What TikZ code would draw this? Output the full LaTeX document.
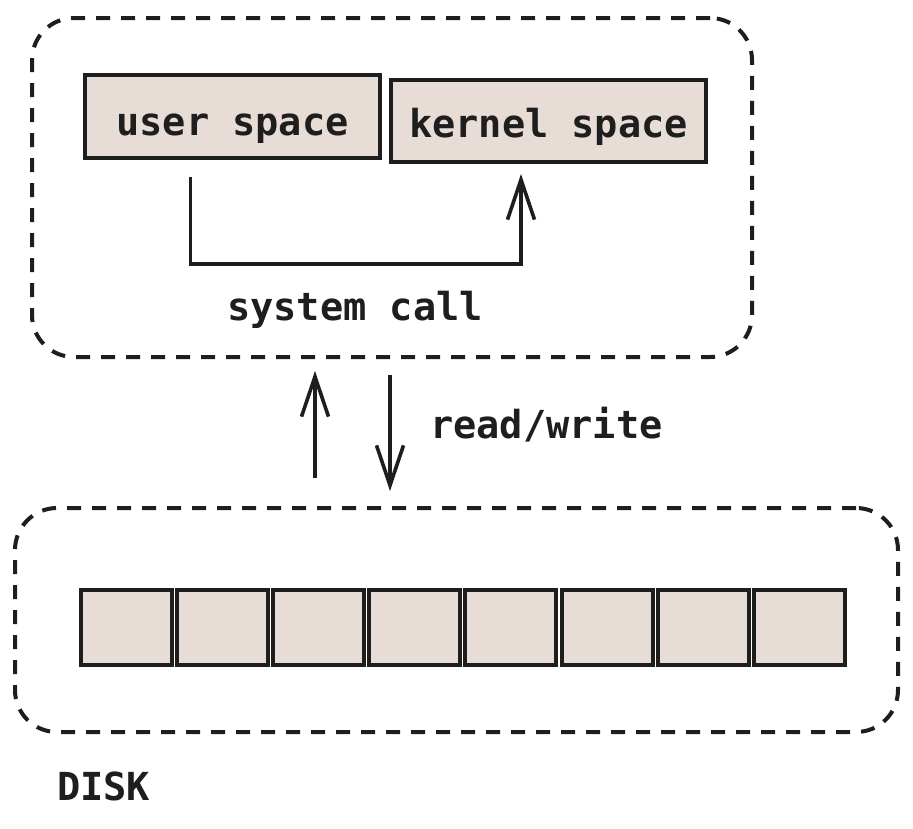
\documentclass[tikz,border=0pt]{standalone}
\usepackage{fontspec}
\setmonofont{DejaVu Sans Mono}
\usetikzlibrary{arrows.meta,calc}
\definecolor{ink}{HTML}{1E1E1E}
\definecolor{boxfill}{HTML}{E8DCD7}
\begin{document}
\begin{tikzpicture}[x=1pt,y=-1pt,
  txt/.style={font=\ttfamily\bfseries\fontsize{38.6}{41}\selectfont, text=ink, inner sep=0pt},
  solidbox/.style={draw=ink, fill=boxfill, line width=4pt, inner sep=0pt},
  group/.style={draw=ink, line width=4pt, rounded corners=42pt, dash pattern=on 14pt off 11pt, inner sep=0pt},
  conn/.style={draw=ink, line width=3.6pt, -{Straight Barb[length=40pt,width=27pt,line width=3.6pt]}}
]
\useasboundingbox (0,0) rectangle (913,828);
% groups
\node[group, minimum width=720pt, minimum height=339pt] (top) at (392,187.5) {};
\node[group, minimum width=883pt, minimum height=224pt] (disk) at (456.5,620) {};
% spaces
\node[solidbox, minimum width=295pt, minimum height=83pt] (user) at (232.5,116.5) {};
\node[txt, anchor=base] (usertxt) at (232.5,135) {user space};
\node[solidbox, minimum width=315pt, minimum height=82pt] (kernel) at (548.5,121) {};
\node[txt, anchor=base] (kerneltxt) at (548.5,137) {kernel space};
% system call connector
\coordinate (turn) at (521,264);
\draw[conn] ([xshift=-42pt,yshift=-17pt]user.south) |- (turn) -- ([xshift=-27.5pt,yshift=-10pt]kernel.south);
\node[txt, anchor=base] (sc) at (355,320) {system call};
% read/write arrows
\draw[conn] ([xshift=-141.5pt,yshift=28pt]disk.north) -- ([xshift=-77pt,yshift=-12pt]top.south);
\draw[conn] ([xshift=-2pt,yshift=-16pt]top.south) -- ([xshift=-66.5pt,yshift=15pt]disk.north);
\node[txt, anchor=base west] (rw) at (430,438) {read/write};
% blocks
\foreach \i in {0,...,7} {
  \node[solidbox, minimum width=91pt, minimum height=75pt] (b\i) at ({126+96.2*\i},627.5) {};
}
\node[txt, anchor=base west] (disklbl) at (57,800) {DISK};
\end{tikzpicture}
\end{document}
